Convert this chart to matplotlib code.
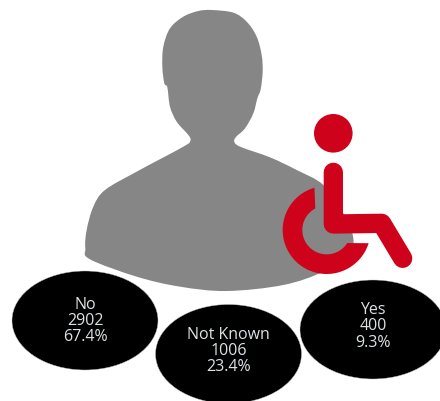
import numpy as np
import matplotlib
matplotlib.use("Agg")
import matplotlib.pyplot as plt
from matplotlib.path import Path
from matplotlib.patches import PathPatch, Ellipse, Circle, Polygon

# Counts and shares per response
categories = ["No", "Not Known", "Yes"]
counts = [2902, 1006, 400]
shares = [67.4, 23.4, 9.3]

GREY = "#868686"
RED = "#CF021B"
TEXT = "#DDE1E4"

# Bubble placement in canvas pixels
bubble_x = [85, 228.5, 373]
bubble_y = [320.5, 354, 329.5]
label_y = [321, 351, 326.5]

# Person silhouette outline, canvas pixels relative to a 3x grid
person = np.array([
    (425, 30), (490, 38), (530, 65), (560, 110), (575, 165), (578, 215), (572, 268),
    (562, 295), (550, 340), (525, 385), (497, 412), (494, 428), (515, 442), (600, 472),
    (680, 510), (760, 555), (820, 640), (850, 715), (835, 765), (760, 815), (640, 855),
    (470, 873), (330, 860), (200, 830), (60, 778), (46, 745), (50, 690), (70, 620),
    (105, 570), (200, 515), (340, 440), (361, 422), (355, 405), (320, 365), (300, 320),
    (292, 262), (283, 250), (277, 200), (280, 140), (300, 85), (340, 50), (385, 33),
], dtype=float) / 3 + (70, 0)


def closed_spline(pts):
    """Closed Catmull-Rom curve through pts as a Bezier path."""
    n = len(pts)
    verts = [pts[0]]
    codes = [Path.MOVETO]
    for i in range(n):
        p0, p1, p2, p3 = pts[i - 1], pts[i], pts[(i + 1) % n], pts[(i + 2) % n]
        verts += [p1 + (p2 - p0) / 6, p2 - (p3 - p1) / 6, p2]
        codes += [Path.CURVE4] * 3
    return Path(verts, codes)


def wheel_outline():
    """Open wheel ring of the wheelchair symbol."""
    cx, cy = 770, 690
    a0 = np.arctan2(563 - cy, 733 - cx)
    a1 = np.arctan2(730 - cy, 897 - cx)
    b0 = np.arctan2(620 - cy, 733 - cx)
    b1 = np.arctan2(730 - cy, 833 - cx)
    outer_a = np.linspace(a0, a1 - 2 * np.pi, 80)
    inner_a = np.linspace(b1 - 2 * np.pi, b0, 80)
    outer = np.c_[cx + 132 * np.cos(outer_a), cy + 132 * np.sin(outer_a)]
    inner = np.c_[cx + 73 * np.cos(inner_a), cy + 73 * np.sin(inner_a)]
    tip = np.array([[733, 555]])
    return np.vstack([tip, outer, inner]) / 3 + (70, 0)


fig = plt.figure(figsize=(4.40, 4.01), dpi=100)
ax = fig.add_axes([0, 0, 1, 1])
ax.set_xlim(0, 440)
ax.set_ylim(401, 0)
ax.axis("off")

ax.add_patch(PathPatch(closed_spline(person), facecolor=GREY, edgecolor="none", zorder=1))

# Wheelchair symbol
ax.add_patch(Circle((333.3, 133.3), 19.3, facecolor=RED, edgecolor="none", zorder=2))
ax.add_patch(Polygon(wheel_outline(), closed=True, facecolor=RED, edgecolor="none", zorder=2))
frame_x = np.array([790, 790, 935, 998]) / 3 + 70
frame_y = np.array([517, 672, 670, 775]) / 3
ax.plot(frame_x, frame_y, color=RED, lw=19.3 * 72 / 100,
        solid_capstyle="round", solid_joinstyle="round", zorder=3)

# Response bubbles
for name, n, pct, x, y, ty in zip(categories, counts, shares, bubble_x, bubble_y, label_y):
    ax.add_patch(Ellipse((x, y), 146, 99, facecolor="black", edgecolor="#BBBBBB",
                         linewidth=0.3, zorder=4, clip_on=True))
    ax.text(x, ty, f"{name}\n{n}\n{pct}%", color=TEXT, ha="center", va="center",
            family="Open Sans", fontsize=11.5, linespacing=1.03, zorder=5)

fig.savefig("out.png", dpi=100, facecolor="white")
